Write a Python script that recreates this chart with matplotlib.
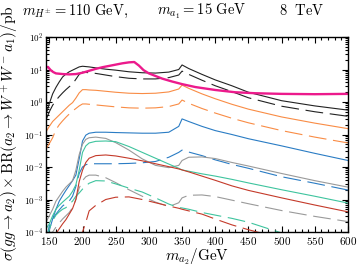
import matplotlib
matplotlib.use("Agg")
import matplotlib.pyplot as plt
import numpy as np
from matplotlib.ticker import FixedLocator, MultipleLocator, LogLocator, NullFormatter

plt.rcParams["mathtext.fontset"] = "cm"
plt.rcParams["font.family"] = "serif"
plt.rcParams["font.serif"] = ["DejaVu Serif"]

# common mass grid (GeV) for the signal curves
mass = [145, 150, 155, 160, 165, 170, 175, 180, 185, 190, 195, 200, 205, 210, 220,
        235, 250, 270, 290, 310, 330, 345, 350, 360, 380, 400, 425, 450, 500, 550, 600]

# values, as log10(sigma x BR / pb)
black_solid = [-0.38, -0.05, 0.25, 0.45, 0.62, 0.77, 0.86, 0.93, 0.98, 1.03, 1.08, 1.10, 1.09, 1.08, 1.05,
               1.01, 0.98, 0.93, 0.90, 0.89, 0.92, 1.00, 1.14, 1.03, 0.85, 0.68, 0.50, 0.30, 0.04, -0.12, -0.25]
black_dash = [-0.55, -0.30, -0.10, 0.05, 0.17, 0.28, 0.38, 0.47, 0.55, 0.70, 0.85, 0.92, 0.91, 0.90, 0.88,
              0.83, 0.78, 0.73, 0.71, 0.71, 0.75, 0.83, 0.95, 0.85, 0.67, 0.50, 0.32, 0.13, -0.13, -0.30, -0.44]
orange_solid = [-0.92, -0.75, -0.60, -0.50, -0.40, -0.30, -0.20, -0.10, -0.02, 0.12, 0.28, 0.38, 0.38, 0.37, 0.36,
                0.33, 0.30, 0.27, 0.26, 0.27, 0.31, 0.40, 0.52, 0.42, 0.25, 0.10, -0.07, -0.22, -0.46, -0.65, -0.82]
orange_dash = [-1.45, -1.28, -1.10, -0.85, -0.70, -0.58, -0.47, -0.37, -0.28, -0.20, -0.12, -0.06, -0.06, -0.07, -0.09,
               -0.12, -0.15, -0.18, -0.19, -0.18, -0.14, -0.06, 0.06, -0.04, -0.20, -0.34, -0.50, -0.64, -0.88, -1.08, -1.26]
blue_solid = [-4.30, -3.94, -3.60, -3.30, -3.05, -2.88, -2.72, -2.57, -2.42, -2.25, -1.75, -1.20, -1.02, -0.96, -0.93,
              -0.93, -0.94, -0.95, -0.96, -0.96, -0.93, -0.75, -0.52, -0.60, -0.75, -0.88, -1.00, -1.13, -1.35, -1.58, -1.80]
blue_dash = [-4.30, -3.80, -3.60, -3.45, -3.32, -3.20, -3.12, -3.05, -2.90, -2.60, -2.20, -2.00, -1.93, -1.90, -1.90,
             -1.90, -1.90, -1.89, -1.87, -1.83, -1.70, -1.55, -1.48, -1.54, -1.65, -1.78, -1.92, -2.04, -2.30, -2.50, -2.71]
grey_solid = [-3.70, -3.50, -3.30, -3.05, -2.90, -2.75, -2.62, -2.52, -2.42, -2.10, -1.62, -1.30, -1.15, -1.10, -1.08,
              -1.12, -1.25, -1.48, -1.75, -1.95, -2.02, -1.95, -1.80, -1.70, -1.69, -1.74, -1.86, -1.97, -2.20, -2.42, -2.62]
grey_dash = [-4.30, -4.20, -4.00, -3.85, -3.72, -3.60, -3.50, -3.40, -3.25, -3.00, -2.65, -2.42, -2.30, -2.25, -2.25,
             -2.33, -2.48, -2.70, -2.90, -3.08, -3.22, -3.10, -2.95, -2.87, -2.86, -2.91, -3.02, -3.13, -3.34, -3.52, -3.68]
teal_solid = [-3.90, -3.75, -3.50, -3.30, -3.18, -3.08, -2.99, -2.90, -2.75, -2.55, -2.10, -1.55, -1.35, -1.26, -1.21,
              -1.20, -1.22, -1.37, -1.55, -1.73, -1.91, -2.04, -2.09, -2.13, -2.21, -2.28, -2.38, -2.49, -2.70, -2.90, -3.11]
teal_dash = [-4.30, -3.90, -3.65, -3.48, -3.38, -3.30, -3.25, -3.15, -3.05, -2.90, -2.80, -2.68, -2.58, -2.50, -2.42,
             -2.43, -2.52, -2.65, -2.77, -2.95, -3.14, -3.25, -3.26, -3.30, -3.40, -3.48, -3.58, -3.70, -4.03, -4.30, -4.50]
red_solid = [-4.40, -4.30, -4.20, -4.05, -3.90, -3.75, -3.62, -3.45, -3.28, -3.00, -2.45, -2.10, -1.86, -1.73, -1.65,
             -1.63, -1.66, -1.73, -1.81, -1.90, -1.99, -2.06, -2.09, -2.15, -2.28, -2.41, -2.58, -2.72, -2.95, -3.17, -3.38]
red_dash = [-5.00, -5.00, -5.00, -5.00, -5.00, -5.00, -5.00, -5.00, -5.00, -4.70, -4.40, -4.00, -3.70, -3.35, -3.18,
            -3.00, -2.93, -2.92, -3.00, -3.10, -3.20, -3.27, -3.30, -3.35, -3.45, -3.60, -3.78, -3.93, -4.20, -4.50, -4.80]

# magenta limit curve
limit_mass = [145, 148, 152, 156, 160, 170, 180, 190, 200, 210, 220, 230, 240, 250, 260, 270,
              278, 285, 292, 300, 310, 320, 335, 350, 370, 400, 430, 460, 500, 550, 600]
limit_val = [1.06, 1.08, 0.98, 0.92, 0.88, 0.86, 0.85, 0.86, 0.90, 0.96, 1.02, 1.07, 1.11, 1.15, 1.19, 1.22,
             1.23, 1.12, 0.98, 0.88, 0.80, 0.72, 0.63, 0.55, 0.46, 0.37, 0.30, 0.27, 0.25, 0.24, 0.25]

x_ticks = [150, 200, 250, 300, 350, 400, 450, 500, 550, 600]
y_ticks = [-4, -3, -2, -1, 0, 1, 2]

curves = [
    (black_solid, black_dash, "#222222"),
    (orange_solid, orange_dash, "#f98c45"),
    (blue_solid, blue_dash, "#2a7cc4"),
    (grey_solid, grey_dash, "#9a9a9a"),
    (teal_solid, teal_dash, "#3ec49e"),
    (red_solid, red_dash, "#c43a2a"),
]


def main():
    fig = plt.figure(figsize=(3.58, 2.67), dpi=100)
    ax = fig.add_axes([46 / 358, 35 / 267, 302 / 358, 195 / 267])

    m = np.array(mass)
    for solid, dash, color in curves:
        ax.plot(m, 10 ** np.array(solid), color=color, lw=0.8)
        ax.plot(m, 10 ** np.array(dash), color=color, lw=0.8, dashes=(16, 6))

    ax.plot(limit_mass, 10 ** np.array(limit_val), color="#ec1a8c", lw=1.7)

    ax.set_yscale("log")
    ax.set_xlim(145, 600)
    ax.set_ylim(1e-4, 1e2)

    ax.xaxis.set_major_locator(FixedLocator(x_ticks))
    ax.xaxis.set_minor_locator(MultipleLocator(10))
    ax.set_xticklabels([r"$%d$" % t for t in x_ticks], fontsize=8)
    ax.yaxis.set_major_locator(FixedLocator([10.0 ** e for e in y_ticks]))
    ax.yaxis.set_minor_locator(LogLocator(base=10, subs=np.arange(2, 10)))
    ax.yaxis.set_minor_formatter(NullFormatter())
    ax.set_yticklabels([r"$10^{%d}$" % e for e in y_ticks], fontsize=6.5)

    ax.tick_params(which="both", direction="in", top=True, right=True, width=0.8)
    ax.tick_params(which="major", length=4.5, pad=2)
    ax.tick_params(which="minor", length=2.2)
    for sp in ax.spines.values():
        sp.set_linewidth(1.0)

    fig.text(22 / 358, 1 - 15 / 267, r"$m_{H^{\pm}} = 110\ \mathrm{GeV},$", fontsize=10.5, va="baseline")
    fig.text(157 / 358, 1 - 15 / 267, r"$m_{a_1} = 15\ \mathrm{GeV}$", fontsize=10.5, va="baseline")
    fig.text(279 / 358, 1 - 15 / 267, r"$8\ \ \mathrm{TeV}$", fontsize=10.5, va="baseline")

    fig.text(10 / 358, 134 / 267,
             r"$\sigma(gg\to a_2)\times\mathrm{BR}(a_2\to W^+W^-a_1)/\mathrm{pb}$",
             rotation=90, ha="center", va="center", fontsize=11)
    fig.text(197 / 358, 1 - 247 / 267, r"$m_{a_2}/\mathrm{GeV}$", ha="center", va="top", fontsize=11)

    fig.savefig("out.png", dpi=100)


if __name__ == "__main__":
    main()
